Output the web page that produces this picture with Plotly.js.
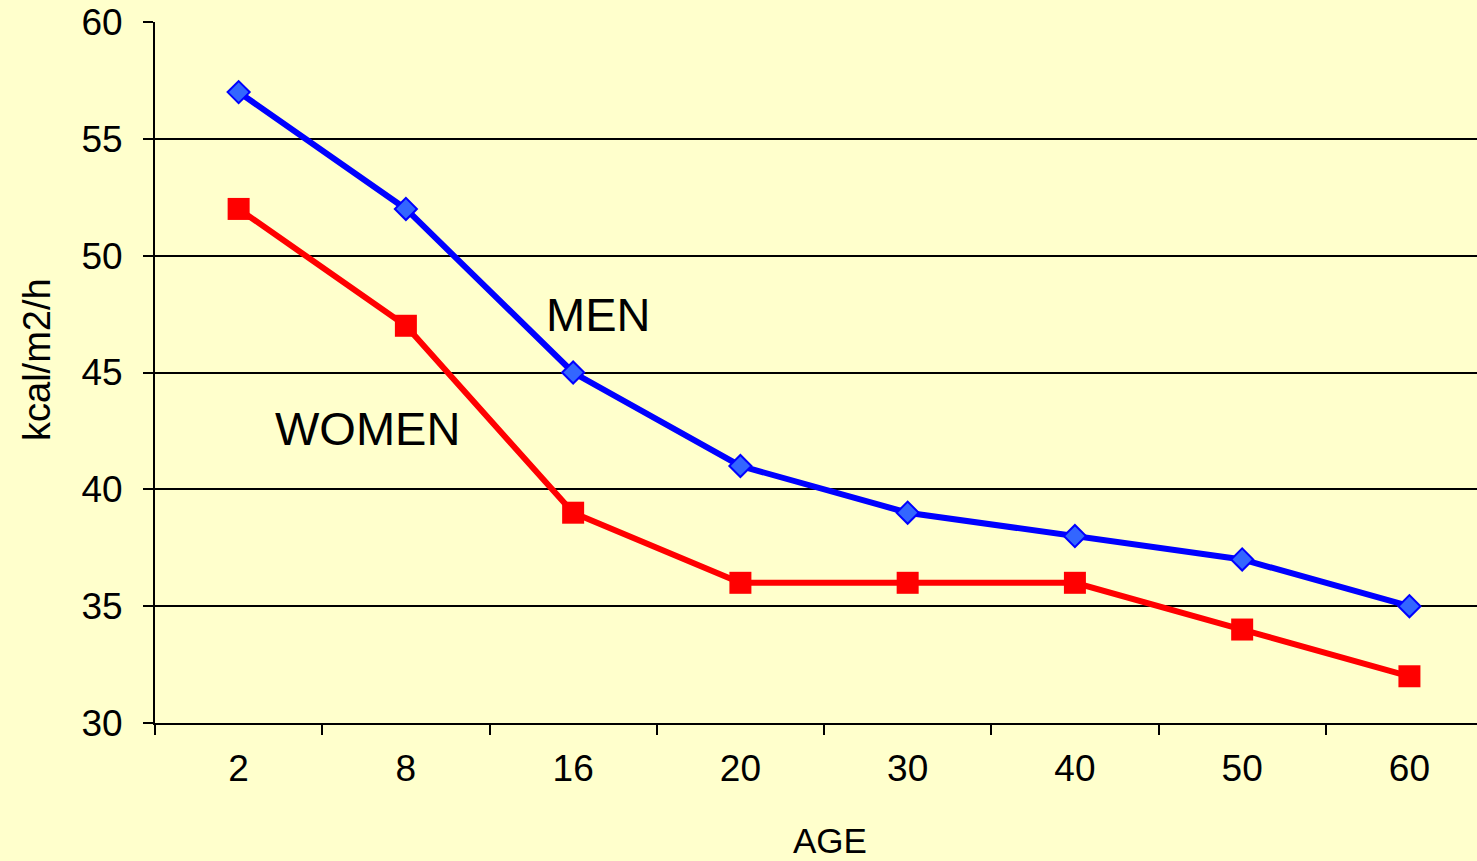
<!DOCTYPE html>
<html>
<head>
<meta charset="utf-8">
<script src="https://cdn.plot.ly/plotly-3.0.1.min.js"></script>
<style>html,body{margin:0;padding:0;background:#FFFFCC;}#chart{width:1477px;height:861px;}</style>
</head>
<body>
<div id="chart"></div>
<script>
var ages = ["2", "8", "16", "20", "30", "40", "50", "60"];
var men = [57, 52, 45, 41, 39, 38, 37, 35];
var women = [52, 47, 39, 36, 36, 36, 34, 32];
var seriesNames = ["MEN", "WOMEN"];
var xTitle = "AGE";
var yTitle = "kcal/m2/h";

var traces = [
  {x: ages, y: men, name: seriesNames[0], type: "scatter", mode: "lines+markers",
   line: {color: "#0000FF", width: 6},
   marker: {symbol: "diamond", size: 17, color: "#3366FF", line: {color: "#0000FF", width: 2}}},
  {x: ages, y: women, name: seriesNames[1], type: "scatter", mode: "lines+markers",
   line: {color: "#FF0000", width: 6},
   marker: {symbol: "square", size: 22, color: "#FF0000", line: {width: 0}}}
];

var layout = {
  width: 1477, height: 861,
  paper_bgcolor: "#FFFFCC", plot_bgcolor: "#FFFFCC",
  margin: {l: 155, r: 0, t: 22, b: 138},
  showlegend: false,
  font: {family: "Liberation Sans, Arial, sans-serif", color: "#000"},
  xaxis: {type: "category", range: [-0.5, 7.404], tickson: "boundaries",
    ticks: "outside", ticklen: 10, tickwidth: 2, tickcolor: "#000",
    showgrid: false, showline: true, linecolor: "#000", linewidth: 2,
    tickfont: {size: 37}, zeroline: false, ticklabelstandoff: 12},
  yaxis: {range: [30, 60], dtick: 5, ticks: "outside", ticklen: 10, tickwidth: 2, tickcolor: "#000",
    showgrid: true, gridcolor: "#000", gridwidth: 2, showline: true, linecolor: "#000", linewidth: 2,
    zeroline: false, tickfont: {size: 37}, ticklabelstandoff: 13},
  annotations: [
    {x: 2.15, y: 47.5, xref: "x", yref: "y", text: seriesNames[0], showarrow: false, font: {size: 47, color: "#000"}},
    {x: 0.77, y: 42.6, xref: "x", yref: "y", text: seriesNames[1], showarrow: false, font: {size: 47, color: "#000"}},
    {x: 0.5106, y: -0.167, xref: "paper", yref: "paper", text: xTitle, showarrow: false,
     xanchor: "center", yanchor: "middle", font: {size: 35, color: "#000"}},
    {x: -0.0892, y: 0.518, xref: "paper", yref: "paper", text: yTitle, showarrow: false, textangle: -90,
     xanchor: "center", yanchor: "middle", font: {size: 38, color: "#000"}}
  ]
};
Plotly.newPlot("chart", traces, layout, {displayModeBar: false});
</script>
</body>
</html>
